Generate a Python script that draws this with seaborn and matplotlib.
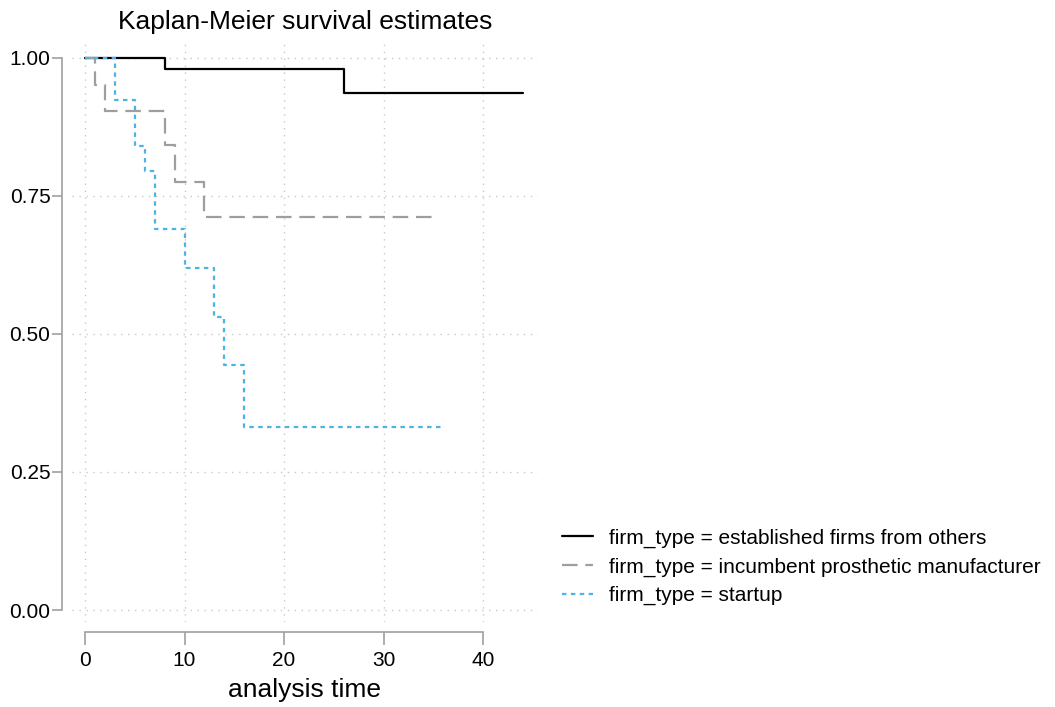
import matplotlib
matplotlib.use("Agg")
import matplotlib.pyplot as plt
import seaborn as sns
import pandas as pd

# Kaplan-Meier step values (time, survival)
est_time = [0, 8, 26, 44]
est_surv = [1.0, 0.980, 0.936, 0.936]

inc_time = [0, 1, 2, 8, 9, 12, 35]
inc_surv = [1.0, 0.951, 0.903, 0.842, 0.776, 0.7125, 0.7125]

start_time = [0, 3, 5, 6, 7, 10, 13, 14, 16, 36]
start_surv = [1.0, 0.924, 0.840, 0.795, 0.690, 0.620, 0.531, 0.443, 0.332, 0.332]

labels = ["firm_type = established firms from others",
          "firm_type = incumbent prosthetic manufacturer",
          "firm_type = startup"]
x_ticks = [0, 10, 20, 30, 40]
y_ticks = [0.0, 0.25, 0.50, 0.75, 1.00]

sns.set_style("white")
plt.rcParams["font.family"] = ["Liberation Sans", "DejaVu Sans"]
plt.rcParams["text.color"] = "black"
plt.rcParams["axes.labelcolor"] = "black"
plt.rcParams["xtick.labelcolor"] = "black"
plt.rcParams["ytick.labelcolor"] = "black"

grey = "#a0a0a0"
styles = [
    dict(color="black", linestyle="-"),
    dict(color="#9e9e9e", linestyle=(0, (7, 3.5))),
    dict(color="#4db2e6", linestyle=(0, (2, 2))),
]

fig = plt.figure(figsize=(10.55, 7.07), dpi=100)
ax = fig.add_axes([72 / 1055, 1 - 622 / 707, (538 - 72) / 1055, (622 - 43) / 707])

series = [(est_time, est_surv), (inc_time, inc_surv), (start_time, start_surv)]
for (t, s), lab, st in zip(series, labels, styles):
    df = pd.DataFrame({"time": t, "surv": s})
    sns.lineplot(data=df, x="time", y="surv", ax=ax, drawstyle="steps-post",
                 linewidth=1.6, label=lab, **st)

ax.set_xlim(-1.3, 45.5)
ax.set_ylim(-0.0217, 1.027)
ax.set_xticks(x_ticks)
ax.set_yticks(y_ticks)
ax.set_yticklabels([f"{v:.2f}" for v in y_ticks])
ax.grid(True, linestyle=(0, (1, 4)), color="#c8c8c8", linewidth=1)

for side in ["top", "right"]:
    ax.spines[side].set_visible(False)
ax.spines["left"].set_position(("outward", 7))
ax.spines["bottom"].set_position(("outward", 7))
ax.spines["left"].set_bounds(0, 1)
ax.spines["bottom"].set_bounds(0, 40)
for side in ["left", "bottom"]:
    ax.spines[side].set_color(grey)
    ax.spines[side].set_linewidth(1.2)
ax.tick_params(axis="y", length=7, width=1.2, color=grey, labelsize=15, pad=1.5, left=True)
ax.tick_params(axis="x", length=9, width=1.2, color=grey, labelsize=15, pad=5, bottom=True)

ax.set_title("Kaplan-Meier survival estimates", fontsize=19, pad=10)
ax.set_xlabel("analysis time", fontsize=19, labelpad=6)
ax.set_ylabel("")

ax.legend(loc="center left", bbox_to_anchor=(543 / 1055, 1 - 567 / 707),
          bbox_transform=fig.transFigure, frameon=False, fontsize=15,
          handlelength=1.5, handletextpad=0.77, labelspacing=0.45)

fig.savefig("out.png", dpi=100)
